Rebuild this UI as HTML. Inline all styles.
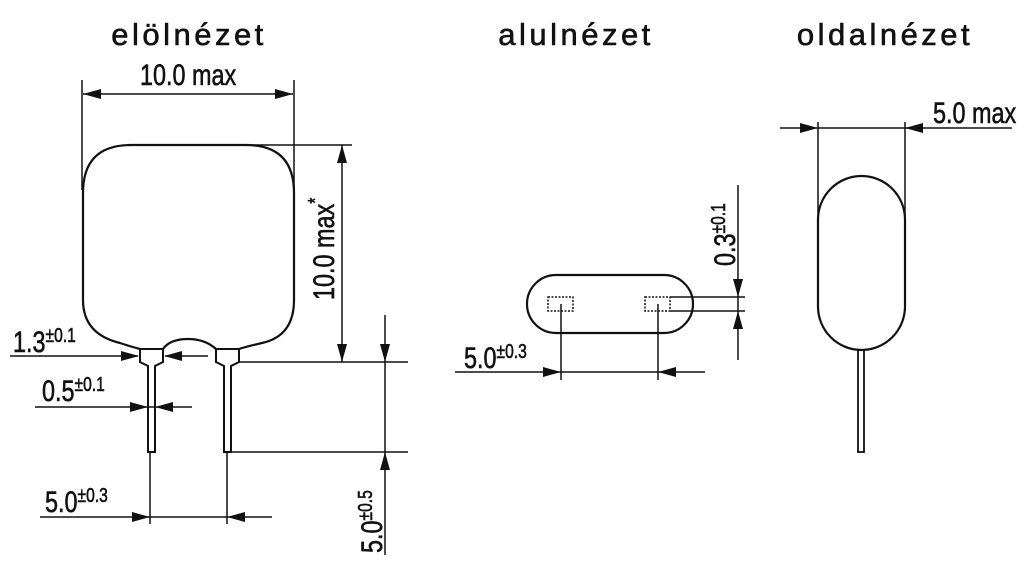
<!DOCTYPE html>
<html><head><meta charset="utf-8"><style>
body{margin:0;background:#fff;}
svg{display:block;}
text{font-family:"Liberation Sans",sans-serif;fill:#111;stroke:#111;stroke-width:0.6;}
</style></head><body>
<svg width="1024" height="566" viewBox="0 0 1024 566" xmlns="http://www.w3.org/2000/svg">
<g font-size="31" text-anchor="middle" letter-spacing="3.5" style="stroke-width:0">
<text x="189" y="45">elölnézet</text>
<text x="576" y="45">alulnézet</text>
<text x="885" y="45">oldalnézet</text>
</g>
<g stroke="#111" fill="none">
<path stroke-width="2.2" d="M83,300 L83,193 Q83,145 131,145 L246,145 Q294,145 294,193 L294,300 Q294,336 262,343 Q245,347 239,349 M216,349 Q205,339 188,339 Q170,339 163,349 M140,349 Q132,347 120,343 Q83,334 83,300"/>
<path stroke-width="2" d="M140,349 L163,349 L163,362 L155,366 L155,452 L148,452 L148,366 L140,362 Z"/>
<path stroke-width="2" d="M216,349 L239,349 L239,362 L231,366 L231,452 L224,452 L224,366 L216,362 Z"/>
<g stroke-width="1.5">
<line x1="82" y1="80" x2="82" y2="190"/>
<line x1="294" y1="80" x2="294" y2="195"/>
<line x1="83" y1="94" x2="293" y2="94"/>
<line x1="250" y1="145" x2="352" y2="145"/>
<line x1="342" y1="145" x2="342" y2="362"/>
<line x1="239" y1="362" x2="408" y2="362"/>
<line x1="231" y1="452" x2="408" y2="452"/>
<line x1="385" y1="315" x2="385" y2="555"/>
<line x1="10" y1="356" x2="138" y2="356"/>
<line x1="165" y1="356" x2="208" y2="356"/>
<line x1="35" y1="407" x2="192" y2="407"/>
<line x1="150" y1="452" x2="150" y2="524"/>
<line x1="227" y1="452" x2="227" y2="524"/>
<line x1="40" y1="517" x2="272" y2="517"/>
<line x1="561" y1="304" x2="561" y2="380"/>
<line x1="658" y1="304" x2="658" y2="380"/>
<line x1="455" y1="372" x2="705" y2="372"/>
<line x1="670" y1="297" x2="745" y2="297"/>
<line x1="670" y1="311" x2="745" y2="311"/>
<line x1="738" y1="185" x2="738" y2="360"/>
<line x1="818" y1="122" x2="818" y2="215"/>
<line x1="905" y1="122" x2="905" y2="215"/>
<line x1="780" y1="128" x2="1012" y2="128"/>
</g>
<rect x="527" y="275" width="166" height="58" rx="29" stroke-width="2.2"/>
<rect x="548" y="297" width="25" height="14" stroke-width="1.5" stroke-dasharray="2,1.5"/>
<rect x="645" y="297" width="25" height="14" stroke-width="1.5" stroke-dasharray="2,1.5"/>
<rect x="818" y="176" width="87" height="174" rx="43.5" ry="43.5" stroke-width="2.2"/>
<rect x="858" y="350" width="6" height="102" stroke-width="1.8"/>
</g>
<g fill="#111">
<polygon points="83,94 101,89 101,99"/><polygon points="293,94 275,89 275,99"/>
<polygon points="342,145 337,163 347,163"/><polygon points="342,362 337,344 347,344"/>
<polygon points="385,362 380,344 390,344"/><polygon points="385,452 380,470 390,470"/>
<polygon points="139,356 121,351 121,361"/><polygon points="164,356 182,351 182,361"/>
<polygon points="148,407 130,402 130,412"/><polygon points="155,407 173,402 173,412"/>
<polygon points="150,517 132,512 132,522"/><polygon points="227,517 245,512 245,522"/>
<polygon points="561,372 543,367 543,377"/><polygon points="658,372 676,367 676,377"/>
<polygon points="738,297 733,279 743,279"/><polygon points="738,311 733,329 743,329"/>
<polygon points="818,128 800,123 800,133"/><polygon points="905,128 923,123 923,133"/>
</g>
<g font-size="30">
<text transform="translate(140,85) scale(0.78,1)">10.0 max</text>
<text transform="translate(334,300) rotate(-90) scale(0.78,1)">10.0 max<tspan font-size="20" dy="-12">*</tspan></text>
<text transform="translate(13,352) scale(0.78,1)">1.3<tspan font-size="20" dy="-10">±0.1</tspan></text>
<text transform="translate(42,401) scale(0.78,1)">0.5<tspan font-size="20" dy="-10">±0.1</tspan></text>
<text transform="translate(45,512) scale(0.78,1)">5.0<tspan font-size="20" dy="-10">±0.3</tspan></text>
<text transform="translate(382,553) rotate(-90) scale(0.78,1)">5.0<tspan font-size="20" dy="-10">±0.5</tspan></text>
<text transform="translate(464,368) scale(0.78,1)">5.0<tspan font-size="20" dy="-10">±0.3</tspan></text>
<text transform="translate(735,266) rotate(-90) scale(0.78,1)">0.3<tspan font-size="20" dy="-10">±0.1</tspan></text>
<text transform="translate(933,123) scale(0.78,1)">5.0 max</text>
</g>
</svg>
</body></html>
